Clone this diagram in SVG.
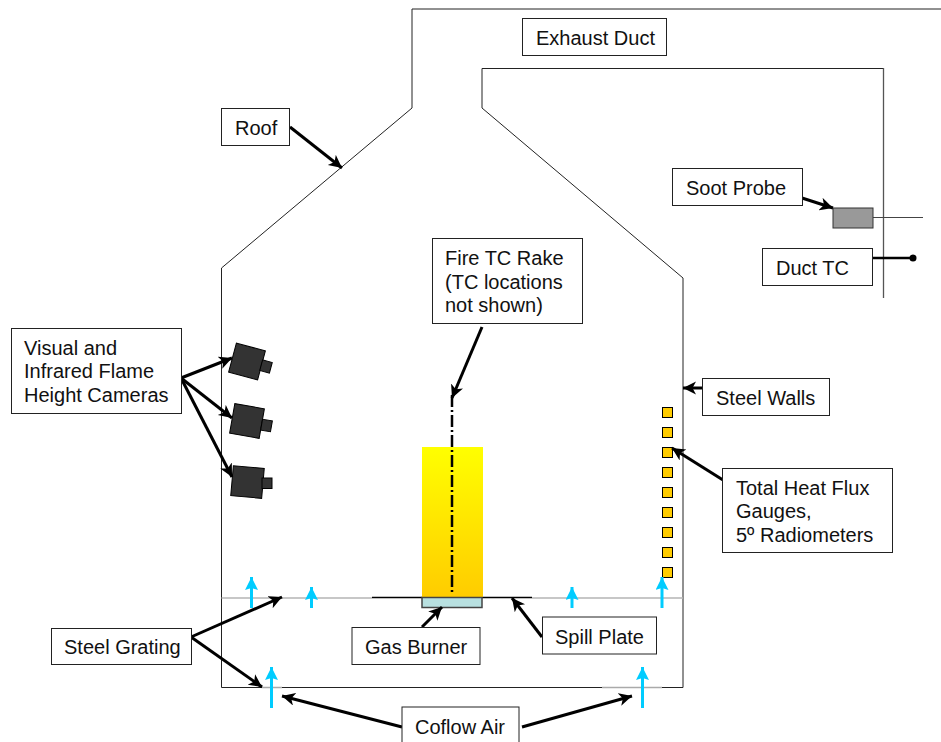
<svg xmlns="http://www.w3.org/2000/svg" width="941" height="742" viewBox="0 0 941 742">
<defs>
<linearGradient id="fire" x1="0" y1="0" x2="0" y2="1"><stop offset="0" stop-color="#ffff00"/><stop offset="1" stop-color="#ffcc00"/></linearGradient>
<marker id="ah" markerUnits="userSpaceOnUse" markerWidth="15" markerHeight="14" refX="13" refY="6.500" orient="auto"><path d="M0 0L13 6.500L0 13L3.500 6.500Z" fill="#000"/></marker>
<marker id="cy" markerUnits="userSpaceOnUse" markerWidth="14" markerHeight="14" refX="13" refY="6.500" orient="auto"><path d="M0 0L13 6.500L0 13L2 6.500Z" fill="#00ccff"/></marker>
</defs>
<style>
.wall{fill:none;stroke:#222;stroke-width:1}
.gray{fill:none;stroke:#b4b4b4;stroke-width:1.5}
.lab{fill:#fff;stroke:#222;stroke-width:1}
.ld{fill:none;stroke:#000;stroke-width:3;marker-end:url(#ah)}
.air{fill:none;stroke:#00ccff;stroke-width:3;marker-end:url(#cy)}
.cam{fill:#333;stroke:#000;stroke-width:1}
.g{fill:#ffcc00;stroke:#000;stroke-width:1}
text{font-family:"Liberation Sans",Arial,sans-serif;font-size:20px;fill:#111}
</style>
<g id="enclosure">
<path class="wall" d="M412 9H941M412 9V108L221.500 268V687.500H683V278L482 108V68.500H883"/>
<path d="M883.500 68V298" fill="none" stroke="#555" stroke-width="1.300"/>
<path d="M221.500 598H372" class="gray"/>
<path d="M532 598H683" class="gray"/>
<path d="M372 597.500H532" fill="none" stroke="#000" stroke-width="1.500"/>
<path d="M262 687.500H282M602 687.500H662" fill="none" stroke="#aaa" stroke-width="1.500"/>
</g>
<g id="fire"><rect x="422" y="447" width="61" height="150" fill="url(#fire)"/></g>
<g id="burner"><rect x="422" y="597.500" width="60" height="10" fill="#b8e0e0" stroke="#444" stroke-width="1.500"/></g>
<g id="rake"><path d="M452 395V594" fill="none" stroke="#000" stroke-width="2.500" stroke-dasharray="12 3 2 3"/></g>
<g id="cameras">
<g id="camera1"><rect class="cam" x="232" y="346.500" width="30" height="30" transform="rotate(15 247 361.500)"/><rect class="cam" x="261" y="361" width="10" height="11" transform="rotate(15 266 366.500)"/></g>
<g id="camera2"><rect class="cam" x="232" y="406" width="30" height="30" transform="rotate(10 247 421)"/><rect class="cam" x="261.500" y="420" width="10" height="11" transform="rotate(10 266.500 425.500)"/></g>
<g id="camera3"><rect class="cam" x="232" y="467" width="31" height="30" transform="rotate(5 247 482)"/><rect class="cam" x="262" y="478" width="10" height="10.500"/></g>
</g>
<g id="gauges">
<rect class="g" x="662.500" y="407.500" width="10" height="10"/><rect class="g" x="662.500" y="427.500" width="10" height="10"/><rect class="g" x="662.500" y="447.500" width="10" height="10"/><rect class="g" x="662.500" y="467.500" width="10" height="10"/><rect class="g" x="662.500" y="487.500" width="10" height="10"/><rect class="g" x="662.500" y="507.500" width="10" height="10"/><rect class="g" x="662.500" y="527.500" width="10" height="10"/><rect class="g" x="662.500" y="547.500" width="10" height="10"/><rect class="g" x="662.500" y="567.500" width="10" height="10"/>
</g>
<g id="probe"><path d="M873 217.500H923" fill="none" stroke="#444"/><rect x="833" y="208" width="40" height="20" fill="#999" stroke="#333"/></g>
<g id="connectors">
<path class="ld" d="M290 127L342 168"/>
<path class="ld" d="M802 198L833 208"/>
<path d="M872 258H913" fill="none" stroke="#000" stroke-width="2.500"/><circle cx="913" cy="258" r="3.500" fill="#000"/>
<path class="ld" d="M482 327L452 398"/>
<path class="ld" d="M181 378L232 358"/>
<path class="ld" d="M181 378L232 418"/>
<path class="ld" d="M181 378L232 477"/>
<path class="ld" d="M703 388L683 388"/>
<path class="ld" d="M723 480L672 448"/>
<path class="ld" d="M191 637L282 597"/>
<path class="ld" d="M191 637L262 687"/>
<path class="ld" d="M422 627L442 607"/>
<path class="ld" d="M542 637L512 598"/>
<path class="ld" d="M402 727L282 696"/>
<path class="ld" d="M522 727L632 696"/>
<path class="air" d="M251.500 608V577"/>
<path class="air" d="M311.500 608V587"/>
<path class="air" d="M572 608V587"/>
<path class="air" d="M662 608V577"/>
<path class="air" d="M271.500 708V667"/>
<path class="air" d="M642.500 708V667"/>
</g>
<g id="label-exhaust"><rect class="lab" x="522.500" y="18.500" width="144" height="37"/><text x="536" y="45">Exhaust Duct</text></g>
<g id="label-roof"><rect class="lab" x="221.500" y="108.500" width="68" height="37"/><text x="235" y="135">Roof</text></g>
<g id="label-soot"><rect class="lab" x="672.500" y="168.500" width="130" height="37"/><text x="686" y="195">Soot Probe</text></g>
<g id="label-duct"><rect class="lab" x="762.500" y="248.500" width="110" height="37"/><text x="776" y="275">Duct TC</text></g>
<g id="label-rake"><rect class="lab" x="432.500" y="238.500" width="150" height="85"/><text x="445" y="265">Fire TC Rake</text><text x="445" y="289">(TC locations</text><text x="445" y="312">not shown)</text></g>
<g id="label-cameras"><rect class="lab" x="11.500" y="328.500" width="170" height="85"/><text x="24" y="355">Visual and</text><text x="24" y="378">Infrared Flame</text><text x="24" y="402">Height Cameras</text></g>
<g id="label-walls"><rect class="lab" x="702.500" y="378.500" width="127" height="37"/><text x="716" y="405">Steel Walls</text></g>
<g id="label-flux"><rect class="lab" x="722.500" y="468.500" width="170" height="84"/><text x="736" y="495">Total Heat Flux</text><text x="736" y="518">Gauges,</text><text x="736" y="542">5º Radiometers</text></g>
<g id="label-grating"><rect class="lab" x="51.500" y="628.500" width="140" height="36"/><text x="64" y="654">Steel Grating</text></g>
<g id="label-burner"><rect class="lab" x="352" y="627.500" width="128" height="37"/><text x="365" y="654">Gas Burner</text></g>
<g id="label-spill"><rect class="lab" x="542.500" y="617" width="114" height="37"/><text x="555" y="644">Spill Plate</text></g>
<g id="label-coflow"><rect class="lab" x="402" y="707" width="117" height="45"/><text x="415" y="734">Coflow Air</text></g>
</svg>
